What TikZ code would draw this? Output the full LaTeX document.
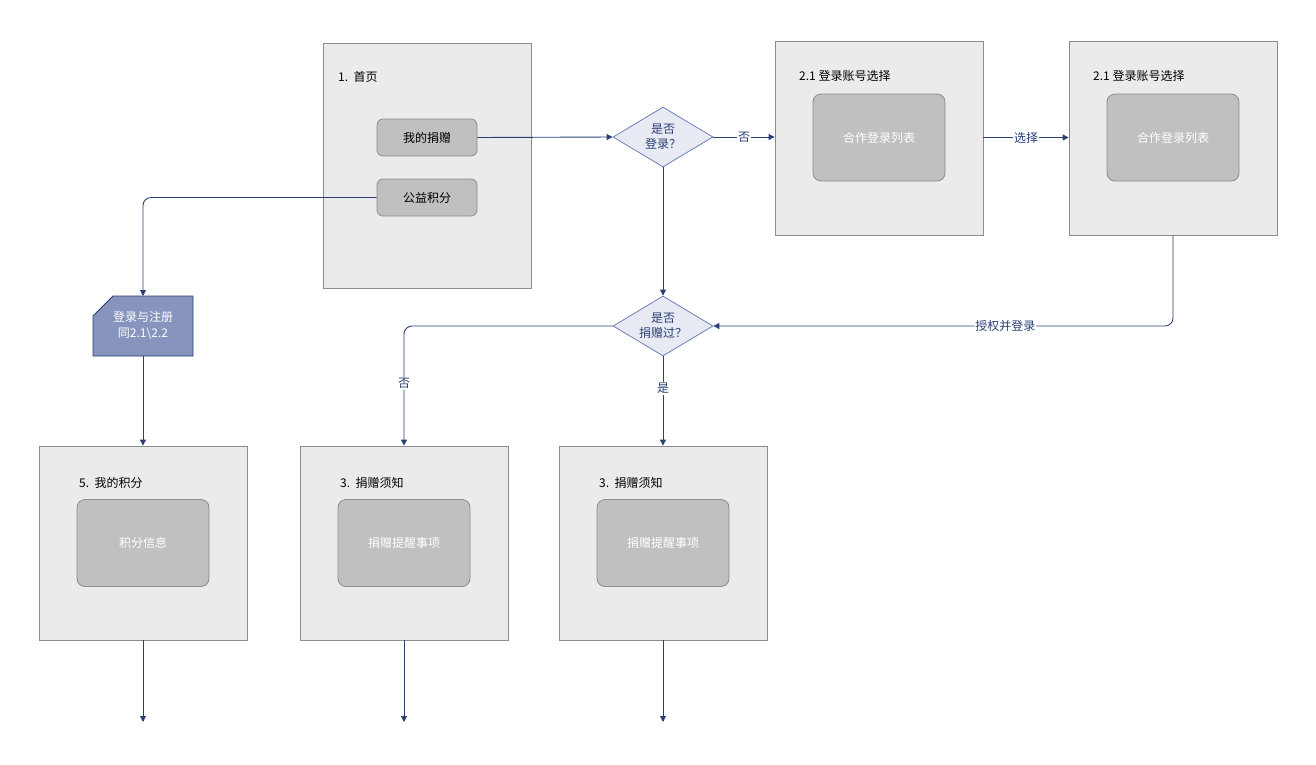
\documentclass[tikz,border=0pt]{standalone}
\usepackage{fontspec}
\setmainfont{Noto Sans CJK SC}
\usetikzlibrary{arrows.meta,shapes.geometric}
\definecolor{linec}{HTML}{2B3F73}
\definecolor{pagefill}{HTML}{EBEBEB}
\definecolor{pagedraw}{HTML}{8C8C8C}
\definecolor{btnfill}{HTML}{C0C0C0}
\definecolor{decfill}{HTML}{E8EAF3}
\definecolor{decdraw}{HTML}{6D80B8}
\definecolor{cardfill}{HTML}{8794BE}
\tikzset{
  page/.style={draw=pagedraw,fill=pagefill,line width=0.8pt,minimum width=208pt,minimum height=194pt,inner sep=0pt},
  btn/.style={draw=pagedraw,fill=btnfill,line width=0.8pt,rounded corners=6pt,minimum width=100pt,minimum height=37pt,inner sep=0pt,font=\fontsize{12pt}{14pt}\selectfont},
  panel/.style={draw=pagedraw,fill=btnfill,line width=0.8pt,rounded corners=8pt,minimum width=132pt,minimum height=87pt,inner sep=0pt,text=white,font=\fontsize{12pt}{14pt}\selectfont},
  ttl/.style={anchor=west,inner sep=0pt,font=\fontsize{12pt}{14pt}\selectfont},
  dec/.style={diamond,draw=decdraw,fill=decfill,line width=0.8pt,minimum width=100pt,minimum height=60pt,inner sep=0pt,aspect=1.67,text=linec,align=center,font=\fontsize{12pt}{15pt}\selectfont},
  conn/.style={draw=linec,line width=0.9pt,-{Triangle[length=6pt,width=6pt]}},
  lbl/.style={fill=white,inner sep=1pt,text=linec,font=\fontsize{12pt}{14pt}\selectfont}
}
\begin{document}
\begin{tikzpicture}[x=1pt,y=-1pt]
\useasboundingbox (0,0) rectangle (1316,764);
% home page
\node[page,minimum height=245pt] (home) at (427,165.5) {};
\node[ttl] (hometitle) at (338,77) {1.\ \ 首页};
\node[btn] (mydon) at (427,137.5) {我的捐赠};
\node[btn] (points) at (427,197.5) {公益积分};
% decision 1
\node[dec] (d1) at (663,137) {是否\\登录？};
% login pages
\node[page] (la) at (879,138) {};
\node[ttl] (lat) at (799,76) {2.1\ 登录账号选择};
\node[panel] (lap) at (879,137.5) {合作登录列表};
\node[page] (lb) at (1173,138) {};
\node[ttl] (lbt) at (1093,76) {2.1\ 登录账号选择};
\node[panel] (lbp) at (1173,137.5) {合作登录列表};
% decision 2
\node[dec] (d2) at (663,326) {是否\\捐赠过？};
% card
\path[draw=linec,fill=cardfill,line width=0.9pt] (113,296) -- (193,296) -- (193,356) -- (93,356) -- (93,316) -- cycle;
\node[text=white,align=center,inner sep=0pt,font=\fontsize{12pt}{16pt}\selectfont] (card) at (143,326) {登录与注册\\同2.1\textbackslash 2.2};
\coordinate (cardtop) at (143,296);
\coordinate (cardbot) at (143,356);
% bottom pages
\node[page] (p5) at (143,543) {};
\node[ttl] (p5t) at (79,483) {5.\ \ 我的积分};
\node[panel] (p5p) at (143,543) {积分信息};
\node[page] (p3a) at (404,543) {};
\node[ttl] (p3at) at (340,483) {3.\ \ 捐赠须知};
\node[panel] (p3ap) at (404,543) {捐赠提醒事项};
\node[page] (p3b) at (663,543) {};
\node[ttl] (p3bt) at (599,483) {3.\ \ 捐赠须知};
\node[panel] (p3bp) at (663,543) {捐赠提醒事项};
\coordinate (e5) at (143,722);
\coordinate (e3a) at (404,722);
\coordinate (e3b) at (663,722);
% connectors
\draw[conn] (mydon.east) -- (d1.west);
\draw[conn] (d1.east) -- node[lbl] {否} (la.west |- d1.east);
\draw[conn] (la.east |- lap.east) -- node[lbl] {选择} (lb.west |- lbp.east);
\draw[conn,rounded corners=8pt] (lb.south) -- (lb.south |- d2.east) -- node[lbl,pos=0.365] {授权并登录} (d2.east);
\draw[conn] (d1.south) -- (d2.north);
\draw[conn,rounded corners=8pt] (d2.west) -- (p3a.north |- d2.west) -- node[lbl,pos=0.48] {否} (p3a.north);
\draw[conn] (d2.south) -- node[lbl,pos=0.36] {是} (p3b.north);
\draw[conn,rounded corners=8pt] (points.west) -- (cardtop |- points.west) -- (cardtop);
\draw[conn] (cardbot) -- (p5.north);
\draw[conn] (p5.south) -- (e5);
\draw[conn] (p3a.south) -- (e3a);
\draw[conn] (p3b.south) -- (e3b);
\end{tikzpicture}
\end{document}
